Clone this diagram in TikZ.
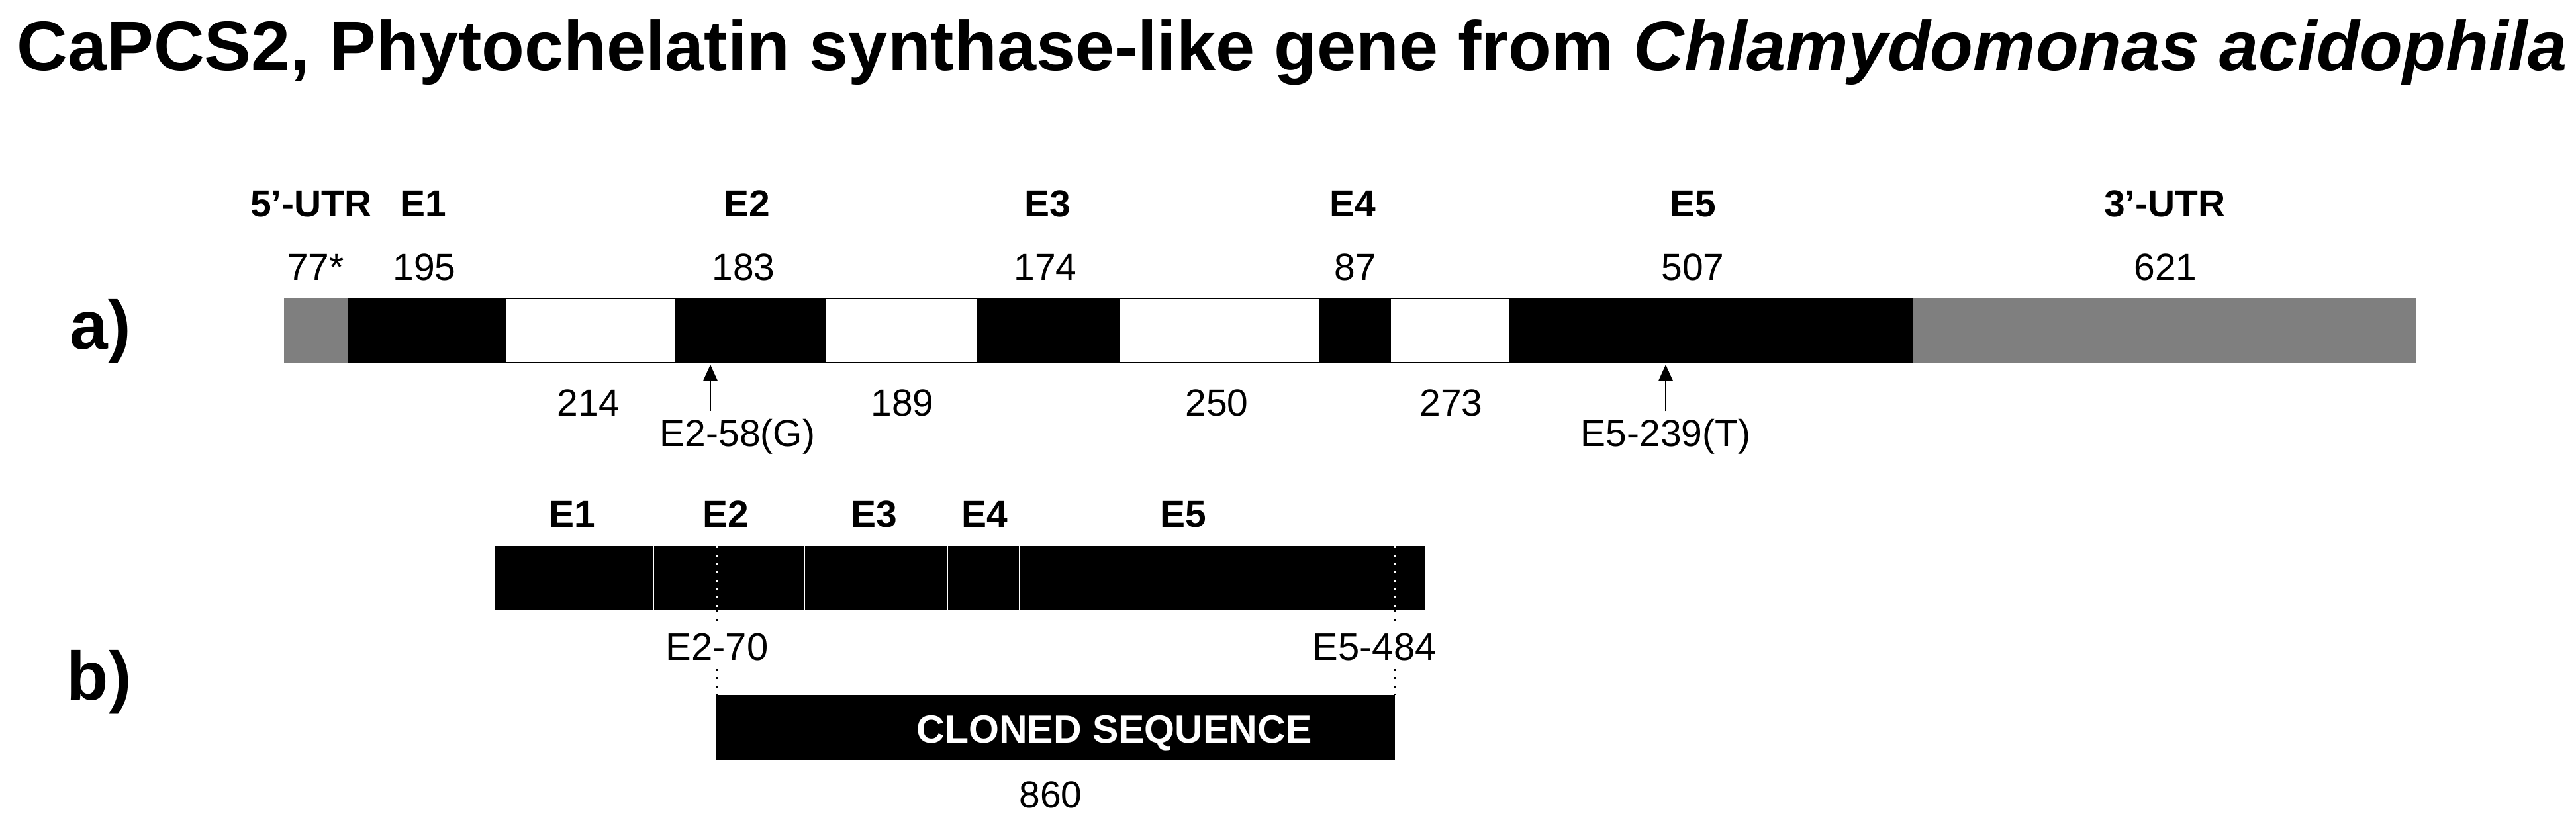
\documentclass[tikz,border=0pt]{standalone}
\usepackage{fontspec}
\setmainfont{Liberation Sans}
\usetikzlibrary{arrows.meta}
\definecolor{utrgray}{RGB}{127,127,127}

\begin{document}
\begin{tikzpicture}[
    exonlbl/.style={anchor=base, font=\bfseries\fontsize{16.2}{19}\selectfont},
    len/.style={anchor=base, font=\fontsize{16.2}{19}\selectfont},
    cutlbl/.style={anchor=base, fill=white, font=\fontsize{16.5}{19}\selectfont},
    partlbl/.style={anchor=base west, inner sep=0pt, font=\bfseries\fontsize{29.5}{34}\selectfont},
    intron/.style={draw=black, fill=white, line width=0.75pt},
    snp/.style={-{Triangle[length=0.25cm,width=0.22cm]}, line width=0.6pt},
    cutline/.style={line width=0.9pt, dash pattern=on 0.9pt off 2.7pt},
  ]

  \useasboundingbox (0,0) rectangle (38.91,12.44);

  \node [anchor=base west, inner sep=0pt, font=\bfseries\fontsize{30.2}{36}\selectfont] (title) at (0.25,11.37)
    {CaPCS2, Phytochelatin synthase-like gene from \textit{Chlamydomonas acidophila}};

  % a) gene structure
  \node [partlbl] (parta) at (1.05,7.16) {a)};

  \fill [utrgray] (4.29,6.96) rectangle (5.26,7.93);
  \fill (5.26,6.96) rectangle (7.64,7.93);
  \draw [intron] (7.64,6.96) rectangle (10.20,7.93);
  \fill (10.20,6.96) rectangle (12.47,7.93);
  \draw [intron] (12.47,6.96) rectangle (14.77,7.93);
  \fill (14.77,6.96) rectangle (16.90,7.93);
  \draw [intron] (16.90,6.96) rectangle (19.93,7.93);
  \fill (19.93,6.96) rectangle (21.00,7.93);
  \draw [intron] (21.00,6.96) rectangle (22.80,7.93);
  \fill (22.80,6.96) rectangle (28.90,7.93);
  \fill [utrgray] (28.90,6.96) rectangle (36.50,7.93);

  \node [exonlbl] (utr5) at (4.70,9.16) {5’-UTR};
  \node [exonlbl] (eA1) at (6.39,9.16) {E1};
  \node [exonlbl] (eA2) at (11.28,9.16) {E2};
  \node [exonlbl] (eA3) at (15.82,9.16) {E3};
  \node [exonlbl] (eA4) at (20.43,9.16) {E4};
  \node [exonlbl] (eA5) at (25.57,9.16) {E5};
  \node [exonlbl] (utr3) at (32.70,9.16) {3’-UTR};

  \node [len] (lenU5) at (4.77,8.20) {77*};
  \node [len] (lenE1) at (6.41,8.20) {195};
  \node [len] (lenE2) at (11.23,8.20) {183};
  \node [len] (lenE3) at (15.79,8.20) {174};
  \node [len] (lenE4) at (20.47,8.20) {87};
  \node [len] (lenE5) at (25.57,8.20) {507};
  \node [len] (lenU3) at (32.71,8.20) {621};

  \node [len] (lenI1) at (8.89,6.15) {214};
  \node [len] (lenI2) at (13.63,6.15) {189};
  \node [len] (lenI3) at (18.38,6.15) {250};
  \node [len] (lenI4) at (21.92,6.15) {273};

  \coordinate (snpAtip) at (10.73,6.93);
  \coordinate (snpBtip) at (25.16,6.93);
  \node [len] (snpA) at (11.14,5.69) {E2-58(G)};
  \node [len] (snpB) at (25.16,5.69) {E5-239(T)};
  \draw [snp] (snpAtip |- snpA.north) -- (snpAtip);
  \draw [snp] (snpB.north) -- (snpBtip);

  % b) coding sequence and cloned fragment
  \node [partlbl] (partb) at (1.00,1.87) {b)};

  \fill (7.47,3.22) rectangle (21.53,4.19);
  \draw [white, line width=0.8pt] (9.87,3.22) -- (9.87,4.19);
  \draw [white, line width=0.8pt] (12.15,3.22) -- (12.15,4.19);
  \draw [white, line width=0.8pt] (14.31,3.22) -- (14.31,4.19);
  \draw [white, line width=0.8pt] (15.40,3.22) -- (15.40,4.19);

  \node [exonlbl] (eB1) at (8.64,4.47) {E1};
  \node [exonlbl] (eB2) at (10.96,4.47) {E2};
  \node [exonlbl] (eB3) at (13.20,4.47) {E3};
  \node [exonlbl] (eB4) at (14.87,4.47) {E4};
  \node [exonlbl] (eB5) at (17.87,4.47) {E5};

  \fill (10.81,0.96) rectangle (21.07,1.94);

  \coordinate (cutLtop) at (10.83,4.19);
  \coordinate (cutLbot) at (10.83,3.22);
  \coordinate (cutLend) at (10.83,1.94);
  \coordinate (cutRtop) at (21.07,4.19);
  \coordinate (cutRbot) at (21.07,3.22);
  \coordinate (cutRend) at (21.07,1.94);
  \draw [cutline, white] (cutLtop) -- (cutLbot);
  \draw [cutline, white] (cutRtop) -- (cutRbot);
  \draw [cutline] (cutLbot) -- (cutLend);
  \draw [cutline] (cutRbot) -- (cutRend);

  \node [cutlbl] (cutL) at (10.83,2.46) {E2-70};
  \node [cutlbl] (cutR) at (20.76,2.46) {E5-484};

  \node [anchor=base, text=white, font=\bfseries\fontsize{16.8}{20}\selectfont] (cloned) at (16.83,1.21) {CLONED SEQUENCE};
  \node [len] (lenCl) at (15.87,0.24) {860};

\end{tikzpicture}
\end{document}
